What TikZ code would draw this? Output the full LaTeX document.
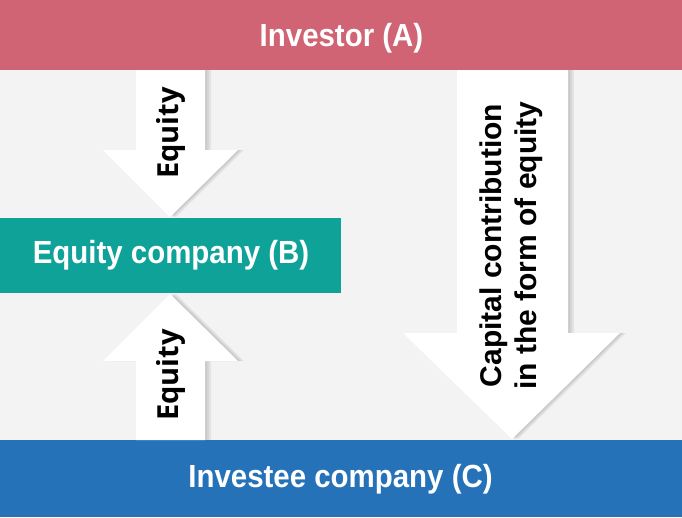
\documentclass[tikz,border=0pt]{standalone}
\usepackage{fontspec}
\setmainfont{Liberation Sans}
\newfontfamily\bandfont[FakeStretch=0.92]{Liberation Sans}
\newfontfamily\eqfont{Open Sans}
\newfontfamily\capfont{Liberation Sans}
\definecolor{bgc}{HTML}{F3F3F3}
\definecolor{redc}{HTML}{D06474}
\definecolor{tealc}{HTML}{0FA299}
\definecolor{bluec}{HTML}{2672B9}
\tikzset{
  band/.style={inner sep=0pt, anchor=base, text=white, font=\bandfont\bfseries\fontsize{32}{36}\selectfont},
  blockarrow/.style={fill=white},
  arrowshadow/.style={fill=black, opacity=0.06},
  eqlabel/.style={inner sep=0pt, rotate=90, text=black, font=\eqfont\bfseries\fontsize{29}{32}\selectfont},
  caplabel/.style={inner sep=0pt, rotate=90, text=black, align=center, font=\capfont\bfseries\fontsize{30}{35}\selectfont}
}
\begin{document}
\begin{tikzpicture}[x=1pt,y=-1pt]
\fill[bgc] (0,0) rectangle (682,517);
\useasboundingbox (0,0) rectangle (682,517);
% shadows
\foreach \d in {2,4,6}{
 \fill[arrowshadow] (136+\d,70) -- (205+\d,70) -- (205+\d,150) -- (238+\d,150) -- (170+\d,217) -- (103+\d,150) -- (136+\d,150) -- cycle;
 \fill[arrowshadow] (136+\d,440) -- (205+\d,440) -- (205+\d,361) -- (238+\d,361) -- (170+\d,294) -- (103+\d,361) -- (136+\d,361) -- cycle;
 \fill[arrowshadow] (457+\d,70) -- (568+\d,70) -- (568+\d,333) -- (620+\d,333) -- (512+\d,439) -- (403+\d,333) -- (457+\d,333) -- cycle;
}
% bands
\fill[redc] (0,0) rectangle (682,70);
\node[band] (A) at (341.5,46) {Investor (A)};
\fill[bluec] (0,440) rectangle (682,517);
\node[band] (C) at (340.5,487) {Investee company (C)};
\fill[tealc] (0,218) rectangle (341,293);
\node[band] (B) at (171,263) {Equity company (B)};
% arrows
\fill[blockarrow] (136,70) -- (205,70) -- (205,150) -- (238,150) -- (170,217) -- (103,150) -- (136,150) -- cycle;
\node[eqlabel] (e1) at (171,133) {Equity};
\fill[blockarrow] (136,440) -- (205,440) -- (205,361) -- (238,361) -- (170,294) -- (103,361) -- (136,361) -- cycle;
\node[eqlabel] (e2) at (171,375) {Equity};
\fill[blockarrow] (457,70) -- (568,70) -- (568,333) -- (620,333) -- (512,439) -- (403,333) -- (457,333) -- cycle;
\node[caplabel] (cc) at (511,245.5) {Capital contribution\\in the form of equity};
\end{tikzpicture}
\end{document}
